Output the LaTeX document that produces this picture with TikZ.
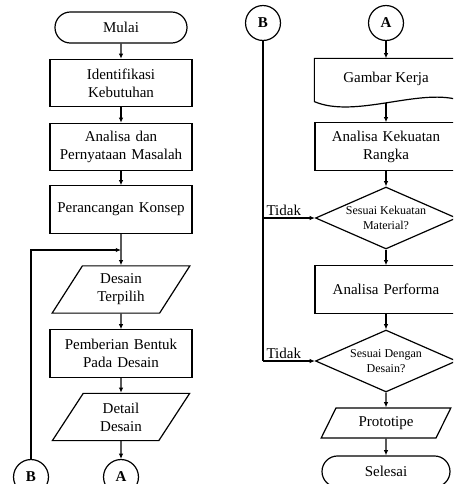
\documentclass[tikz,border=0pt]{standalone}
\usepackage{fontspec}
\setmainfont{Liberation Serif}
\usetikzlibrary{arrows.meta,calc,positioning,shapes.geometric,shapes.misc}

\tikzset{
  proses/.style={draw, rectangle, minimum width=94.7pt, minimum height=31.5pt, text width=92pt, align=center, inner sep=1pt},
  mulaiselesai/.style={draw, rounded rectangle, minimum width=94.7pt, minimum height=20.7pt},
  data/.style={draw, trapezium, trapezium left angle=60, trapezium right angle=120, trapezium stretches=true, minimum width=92pt, minimum height=31.5pt, align=center, inner sep=1pt},
  keputusan/.style={draw, diamond, aspect=2.26, minimum width=94pt, minimum height=41.3pt, inner sep=0pt, align=center, font=\footnotesize},
  konektor/.style={draw, circle, minimum size=23.3pt, inner sep=0pt, font=\bfseries},
  alur/.style={-{Latex[length=3.5pt,width=3pt]}},
}

\begin{document}
\begin{tikzpicture}[x=0.6667pt, y=-0.6667pt, line width=0.8pt]
\useasboundingbox (0,0) rectangle (453,484);
\clip (0,0) rectangle (453,484);
% kolom kiri
\node[mulaiselesai] (mulai) at (121,27.5) {Mulai};
\node[proses] (identifikasi) at (121,83) {Identifikasi\\Kebutuhan};
\node[proses] (masalah) at (121,147) {Analisa dan\\Pernyataan Masalah};
\node[proses] (konsep) at (121,209.5) {Perancangan Konsep};
\coordinate (gabung) at (121,250);
\node[data] (terpilih) at (121,289.5) {Desain\\Terpilih};
\node[proses] (bentuk) at (121,353.5) {Pemberian Bentuk\\Pada Desain};
\node[data] (detail) at (121,417) {Detail\\Desain};
\node[konektor] (bkiri) at (31,477) {B};
\node[konektor] (akiri) at (121,477) {A};
% kolom kanan
\node[konektor] (bkanan) at (263,23) {B};
\node[konektor] (akanan) at (386,23) {A};
\node[minimum width=94.7pt, minimum height=26.7pt, inner sep=0pt] (gambar) at (386,79) {Gambar Kerja};
\draw (gambar.north west) -- (gambar.north east) -- (gambar.south east)
  .. controls +(-40,-11) and +(40,17) .. ($(gambar.south west)+(0,2)$) -- cycle;
\node[proses] (kekuatan) at (386,146.5) {Analisa Kekuatan\\Rangka};
\node[keputusan] (cek1) at (386,218) {Sesuai Kekuatan\\Material?};
\node[proses] (performa) at (386,289.5) {Analisa Performa};
\node[keputusan] (cek2) at (386,361) {Sesuai Dengan\\Desain?};
\node[data, trapezium left angle=62, trapezium right angle=118, minimum width=86.7pt, minimum height=20pt] (prototipe) at (386,423) {Prototipe};
\node[mulaiselesai, minimum width=92pt] (selesai) at (386,471.5) {Selesai};

% alur kiri
\draw[alur] (mulai) -- (identifikasi);
\draw[alur] (identifikasi) -- (masalah);
\draw[alur] (masalah) -- (konsep);
\draw[alur] (konsep) -- (terpilih);
\draw[alur] (bkiri) |- (gabung);
\draw[alur] (terpilih) -- (bentuk);
\draw[alur] (bentuk) -- (detail);
\draw[alur] (detail) -- (akiri);
% alur kanan
\draw[alur] (akanan) -- (gambar);
\draw[alur] ([yshift=-2pt]gambar.south) -- (kekuatan);
\draw[alur] (kekuatan) -- (cek1);
\draw[alur] (cek1) -- (performa);
\draw[alur] (performa) -- (cek2);
\draw[alur] (cek2) -- (prototipe);
\draw[alur] (prototipe) -- (selesai);
\draw (bkanan) -- (bkanan |- cek2.west);
\draw[alur] (bkanan |- cek1.west) -- node[above, pos=0.4, inner sep=1pt] {Tidak} (cek1.west);
\draw[alur] (bkanan |- cek2.west) -- node[above, pos=0.4, inner sep=1pt] {Tidak} (cek2.west);
\end{tikzpicture}
\end{document}
